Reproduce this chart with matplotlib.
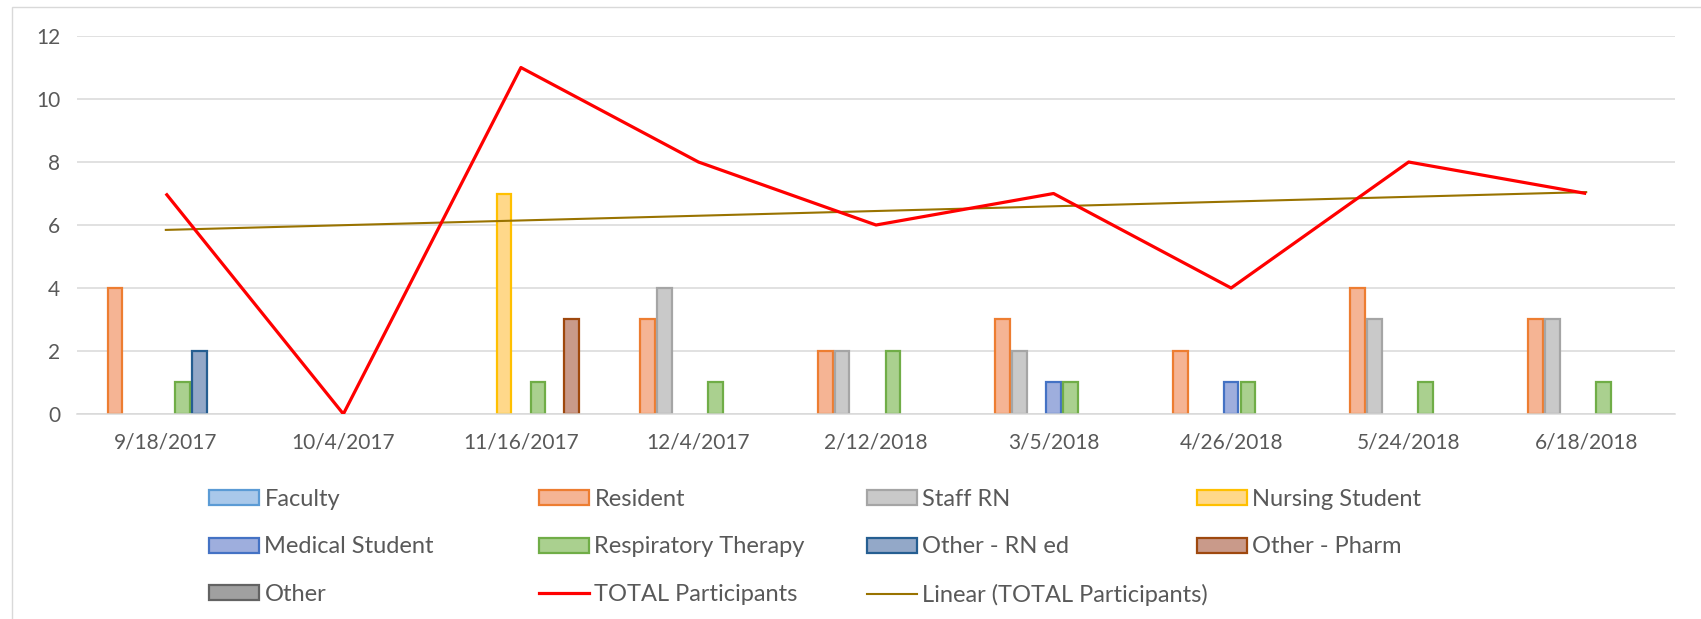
import numpy as np
import matplotlib.pyplot as plt
from matplotlib.patches import Patch, Rectangle
from matplotlib.lines import Line2D

plt.rcParams['font.family'] = ['Lato', 'DejaVu Sans']

# data
dates = ["9/18/2017", "10/4/2017", "11/16/2017", "12/4/2017", "2/12/2018",
         "3/5/2018", "4/26/2018", "5/24/2018", "6/18/2018"]
faculty = [0, 0, 0, 0, 0, 0, 0, 0, 0]
resident = [4, 0, 0, 3, 2, 3, 2, 4, 3]
staff_rn = [0, 0, 0, 4, 2, 2, 0, 3, 3]
nursing_student = [0, 0, 7, 0, 0, 0, 0, 0, 0]
medical_student = [0, 0, 0, 0, 0, 1, 1, 0, 0]
resp_therapy = [1, 0, 1, 1, 2, 1, 1, 1, 1]
other_rn_ed = [2, 0, 0, 0, 0, 0, 0, 0, 0]
other_pharm = [0, 0, 3, 0, 0, 0, 0, 0, 0]
other = [0, 0, 0, 0, 0, 0, 0, 0, 0]
total = [7, 0, 11, 8, 6, 7, 4, 8, 7]

series = [
    ("Faculty", faculty, "#A9C8EA", "#5B9BD5"),
    ("Resident", resident, "#F5B494", "#ED7D31"),
    ("Staff RN", staff_rn, "#C9C9C9", "#A5A5A5"),
    ("Nursing Student", nursing_student, "#FFD88A", "#FFC000"),
    ("Medical Student", medical_student, "#9EAEDD", "#4472C4"),
    ("Respiratory Therapy", resp_therapy, "#AAD08F", "#70AD47"),
    ("Other - RN ed", other_rn_ed, "#93A8C8", "#255E91"),
    ("Other - Pharm", other_pharm, "#C99A8A", "#9E480E"),
    ("Other", other, "#A0A0A0", "#636363"),
]

txt = "#595959"
grid = "#D9D9D9"

fig = plt.figure(figsize=(17.01, 6.19), dpi=100)
ax = fig.add_axes([0.0453, 0.3312, 0.9394, 0.6106])

x = np.arange(len(dates))
slot = 0.0955
width = 0.083
handles = {}
for i, (name, vals, fc, ec) in enumerate(series):
    off = (i - 4) * slot
    vals = np.array(vals, dtype=float)
    nz = vals > 0
    if nz.any():
        ax.bar(x[nz] + off, vals[nz], width=width, color=fc, edgecolor=ec,
               linewidth=1.6, zorder=2)
    handles[name] = Patch(facecolor=fc, edgecolor=ec, linewidth=1.6)

ax.plot(x, total, color="#FF0000", lw=2.3, zorder=4, solid_capstyle="butt")
handles["TOTAL Participants"] = Line2D([], [], color="#FF0000", lw=2.3)

# linear trendline of the totals
k, b = np.polyfit(x + 1, total, 1)
ax.plot(x, k * (x + 1) + b, color="#997300", lw=1.5, zorder=3)
handles["Linear (TOTAL Participants)"] = Line2D([], [], color="#997300", lw=1.5)

ax.set_xlim(-0.5, len(dates) - 0.5)
ax.set_ylim(0, 12)
ax.set_yticks(range(0, 13, 2))
ax.set_xticks(x)
ax.set_xticklabels(dates)
ax.yaxis.grid(True, color=grid, lw=1.1, zorder=0)
ax.set_axisbelow(True)
for s in ["top", "right", "left"]:
    ax.spines[s].set_visible(False)
ax.spines["bottom"].set_color(grid)
ax.spines["bottom"].set_linewidth(1.1)
ax.tick_params(axis="both", length=0, labelsize=15, colors=txt)
ax.tick_params(axis="y", pad=12)
ax.tick_params(axis="x", pad=13)

# legend, one column at a time so the columns sit at Excel-like positions
cols = [
    ["Faculty", "Medical Student", "Other"],
    ["Resident", "Respiratory Therapy", "TOTAL Participants"],
    ["Staff RN", "Other - RN ed", "Linear (TOTAL Participants)"],
    ["Nursing Student", "Other - Pharm"],
]
col_x = [209, 539, 867, 1197]
for cx, names in zip(col_x, cols):
    leg = fig.legend([handles[n] for n in names], names, loc="upper left",
                     bbox_to_anchor=(cx / 1701, 1 - 489 / 619), frameon=False,
                     fontsize=17, labelcolor=txt, handlelength=2.1, handleheight=0.6,
                     handletextpad=0.25, labelspacing=1.12, borderpad=0, borderaxespad=0)

# chart border
fig.patches.append(Rectangle((12 / 1701, -0.1), 1.2, 1 - 7 / 619 + 0.1,
                             transform=fig.transFigure, fill=False,
                             edgecolor="#D9D9D9", lw=1.0))

fig.savefig("out.png", dpi=100)
